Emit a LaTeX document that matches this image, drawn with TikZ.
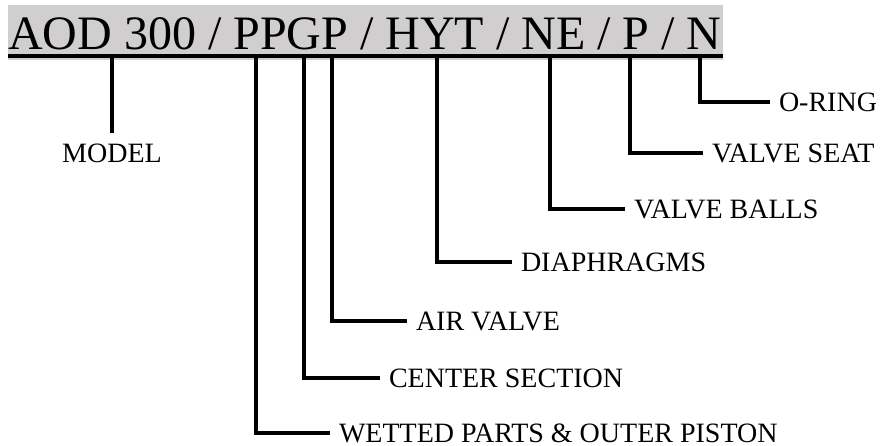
\documentclass[tikz,border=0pt]{standalone}
\usepackage{fontspec}
\setmainfont{Liberation Serif}
\usetikzlibrary{positioning}
\definecolor{bandgray}{RGB}{208,206,206}

\begin{document}
\begin{tikzpicture}[x=1pt,y=-1pt,
    leader/.style={line width=3.2pt},
    lbl/.style={anchor=west, inner xsep=9pt, inner ysep=0pt, outer sep=0pt,
                font=\fontsize{28}{30}\selectfont}]

    \useasboundingbox (0,0) rectangle (891,446);

    % Code band
    \fill[bandgray] (8,5) rectangle (723,60);
    \node[anchor=base west, inner sep=0pt, font=\fontsize{48}{52}\selectfont] (code) at (8,50)
        {AOD 300 / PPGP / HYT / NE / P / N};
    \coordinate (ul-l) at (8,56);
    \coordinate (ul-r) at (723,56);
    \draw[leader] (ul-l) -- (ul-r);

    % Taps on the underline
    \coordinate (t-model)  at (112,56);
    \coordinate (t-wet)    at (256,56);
    \coordinate (t-center) at (304,56);
    \coordinate (t-air)    at (332,56);
    \coordinate (t-diaph)  at (437,56);
    \coordinate (t-balls)  at (550,56);
    \coordinate (t-seat)   at (630,56);
    \coordinate (t-oring)  at (700,56);

    % Labels
    \node[anchor=north, inner xsep=0pt, inner ysep=11pt, outer sep=0pt,
          font=\fontsize{28}{30}\selectfont] (model) at (112,133) {MODEL};
    \node[lbl] (oring)  at (770,102) {O-RING};
    \node[lbl] (seat)   at (703,153) {VALVE SEAT};
    \node[lbl] (balls)  at (625,209) {VALVE BALLS};
    \node[lbl] (diaph)  at (512,262) {DIAPHRAGMS};
    \node[lbl] (air)    at (407,321) {AIR VALVE};
    \node[lbl] (center) at (380,378) {CENTER SECTION};
    \node[lbl] (wet)    at (330,433) {WETTED PARTS \& OUTER PISTON};

    % Leaders
    \draw[leader] (t-model) -- (model.north);
    \draw[leader] (t-oring) |- (oring.west);
    \draw[leader] (t-seat) |- (seat.west);
    \draw[leader] (t-balls) |- (balls.west);
    \draw[leader] (t-diaph) |- (diaph.west);
    \draw[leader] (t-air) |- (air.west);
    \draw[leader] (t-center) |- (center.west);
    \draw[leader] (t-wet) |- (wet.west);

\end{tikzpicture}
\end{document}
